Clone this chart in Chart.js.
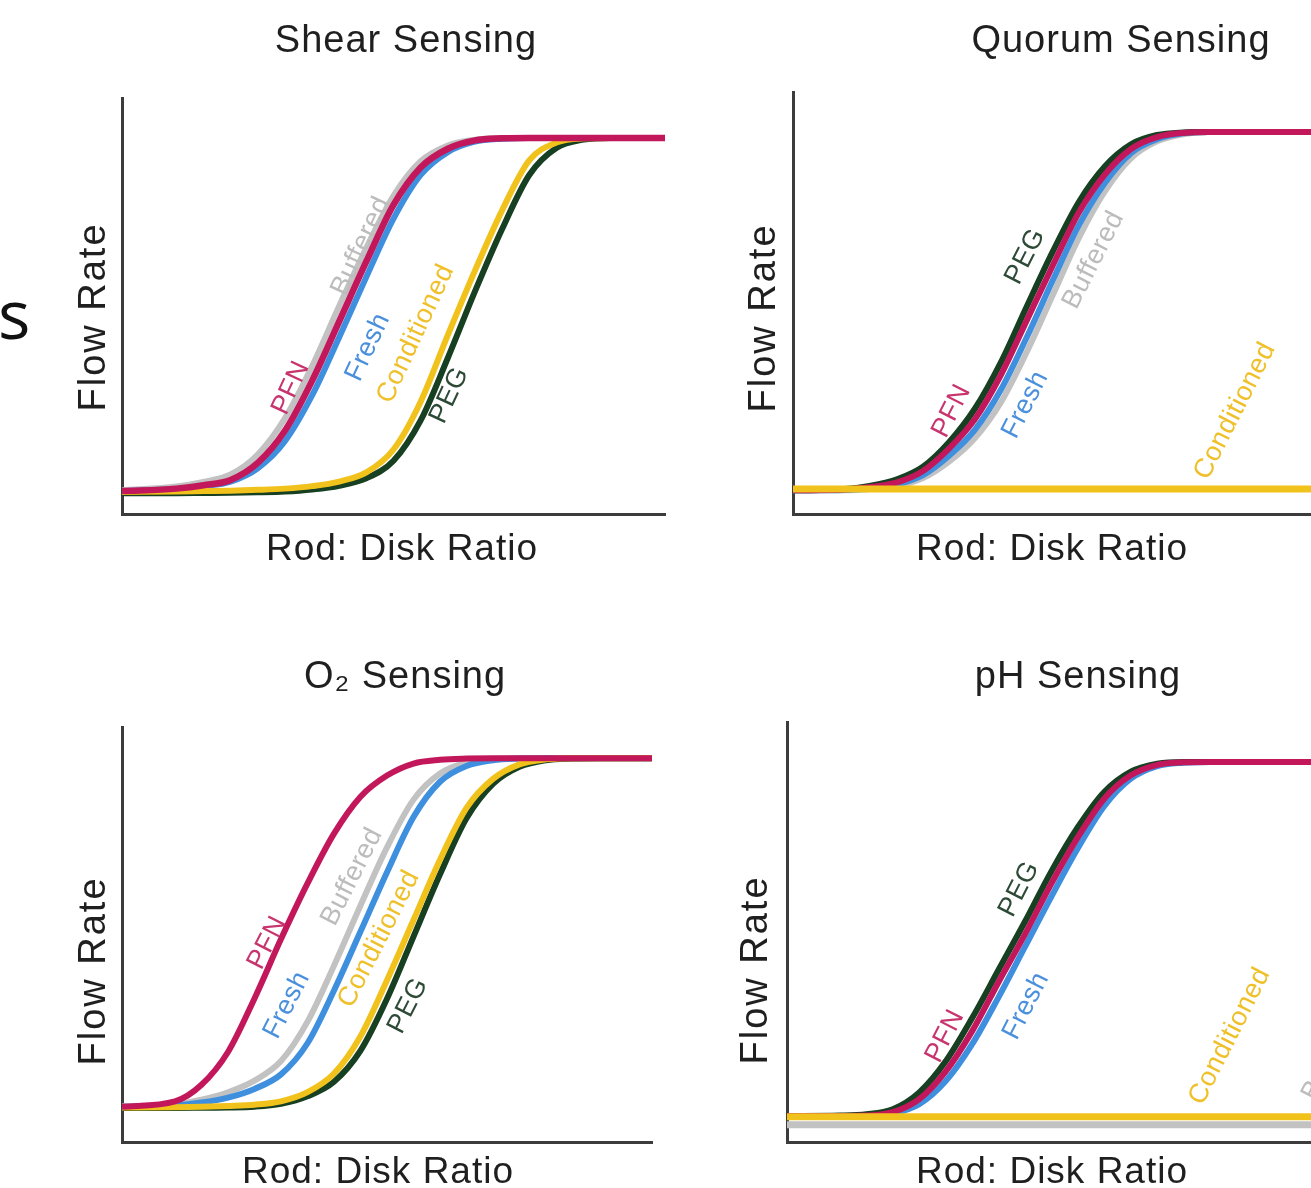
<!DOCTYPE html>
<html>
<head>
<meta charset="utf-8">
<title>Flow rate vs rod:disk ratio</title>
<script src="https://cdn.jsdelivr.net/npm/chart.js@4.4.1/dist/chart.umd.min.js"></script>
<style>
    html, body {
        margin: 0;
        padding: 0;
        width: 1311px;
        height: 1188px;
        overflow: hidden;
        background: #ffffff;
    }
    canvas.panel {
        position: absolute;
    }
    #cutText {
        position: absolute;
        left: -2px;
        top: 279px;
        font-family: "Open Sans", sans-serif;
        font-size: 68px;
        line-height: 68px;
        color: #111;
    }
</style>
</head>
<body>
<div id="cutText">s</div>
<canvas id="shearChart" class="panel"></canvas>
<canvas id="quorumChart" class="panel"></canvas>
<canvas id="oxygenChart" class="panel"></canvas>
<canvas id="phChart" class="panel"></canvas>

<script>
// rod:disk ratio sample points (arbitrary units, 0-100 across each axis)
const ratioSteps = [0, 10, 15, 20, 25, 30, 35, 40, 45, 50, 55, 60, 65, 70, 75, 80, 85, 90, 100];

// Shear sensing - flow rate (arbitrary units)
const shearPFN         = [5.5, 6.1, 6.9, 8.2, 12.3, 20, 32, 46.3, 60.7, 74.3, 83.3, 87.8, 89.8, 90.3, 90.4, 90.4, 90.4, 90.4, 90.4];
const shearBuffered    = [5.7, 6.6, 7.7, 9.5, 14.3, 23, 35.5, 50, 64, 76.5, 84.8, 88.6, 90, 90.4, 90.4, 90.4, 90.4, 90.4, 90.4];
const shearFresh       = [5.5, 6.0, 6.7, 7.8, 11, 17.5, 28.5, 42.5, 57, 71, 81.5, 87, 89.5, 90.2, 90.4, 90.4, 90.4, 90.4, 90.4];
const shearConditioned = [5.3, 5.4, 5.5, 5.6, 5.8, 6.1, 6.7, 7.8, 10, 15.5, 27, 43, 58.5, 73, 85, 89.3, 90.3, 90.4, 90.4];
const shearPEG         = [5.0, 5.0, 5.05, 5.1, 5.2, 5.4, 5.9, 6.8, 8.6, 12.8, 22.5, 37.5, 53.5, 68.5, 81.5, 88, 90, 90.4, 90.4];

// Quorum sensing
const quorumPFN         = [5.6, 5.8, 6.4, 7.5, 10.2, 15.5, 22.5, 33, 46, 59, 71.5, 80.5, 86.5, 89.3, 90.3, 90.5, 90.5, 90.5, 90.5];
const quorumPEG         = [5.6, 5.9, 6.7, 8.2, 11.2, 17, 25, 36, 49.3, 62.3, 74, 82.4, 87.6, 89.8, 90.4, 90.5, 90.5, 90.5, 90.5];
const quorumFresh       = [5.6, 5.7, 6.1, 7, 9.2, 13.8, 20, 29.5, 42, 55.5, 68.5, 78.5, 85.5, 88.8, 90.2, 90.5, 90.5, 90.5, 90.5];
const quorumBuffered    = [5.6, 5.6, 5.9, 6.6, 8.5, 12.4, 18, 26.5, 38.5, 52, 65.5, 76.5, 84.3, 88.3, 90, 90.5, 90.5, 90.5, 90.5];
const quorumConditioned = [5.9, 5.9, 5.9, 5.9, 5.9, 5.9, 5.9, 5.9, 5.9, 5.9, 5.9, 5.9, 5.9, 5.9, 5.9, 5.9, 5.9, 5.9, 5.9];

// O2 sensing
const oxygenPFN         = [8.5, 9.8, 13.8, 21.7, 34.6, 48.9, 62.3, 74.3, 83.2, 88.3, 91.2, 92.1, 92.4, 92.5, 92.5, 92.5, 92.5, 92.5, 92.5];
const oxygenBuffered    = [8.6, 9.1, 10.2, 12, 14.8, 19.5, 29, 42.5, 57, 71, 82.5, 88.8, 91.5, 92.3, 92.5, 92.5, 92.5, 92.5, 92.5];
const oxygenFresh       = [8.5, 8.8, 9.5, 10.7, 12.8, 16.3, 23.8, 36.5, 50.7, 65, 78.3, 86.8, 90.6, 92, 92.4, 92.5, 92.5, 92.5, 92.5];
const oxygenConditioned = [8.3, 8.4, 8.5, 8.7, 9.0, 9.8, 12, 16.5, 25.5, 39, 53.5, 68, 80.5, 87.5, 91, 92.2, 92.5, 92.5, 92.5];
const oxygenPEG         = [8.2, 8.2, 8.25, 8.3, 8.5, 9.2, 11, 14.5, 22, 34.5, 49.5, 64.5, 78, 86.3, 90.4, 92, 92.4, 92.5, 92.5];

// pH sensing
const phPFN         = [6.2, 6.2, 6.3, 7.1, 10.2, 16.8, 26.4, 38.1, 49.5, 61.6, 72.6, 81.8, 87.3, 89.8, 90.4, 90.5, 90.5, 90.5, 90.5];
const phPEG         = [6.2, 6.3, 6.6, 7.8, 11.8, 19.2, 29.5, 41, 52.5, 64.5, 75, 83.4, 88.2, 90.1, 90.5, 90.5, 90.5, 90.5, 90.5];
const phFresh       = [6.2, 6.2, 6.2, 6.8, 9, 14.5, 23.3, 34.5, 46.5, 58.5, 70, 80, 86.5, 89.5, 90.3, 90.5, 90.5, 90.5, 90.5];
const phConditioned = [6.0, 6.0, 6.0, 6.0, 6.0, 6.0, 6.0, 6.0, 6.0, 6.0, 6.0, 6.0, 6.0, 6.0, 6.0, 6.0, 6.0, 6.0, 6.0];
const phBuffered    = [4.1, 4.1, 4.1, 4.1, 4.1, 4.1, 4.1, 4.1, 4.1, 4.1, 4.1, 4.1, 4.1, 4.1, 4.1, 4.1, 4.1, 4.1, 4.1];

// in-plot curve labels: [name, ratio, flow rate]
const shearLabels  = [['PFN', 31.1, 30.3], ['Buffered', 44, 64.4], ['Fresh', 45.3, 40.1], ['Conditioned', 54.1, 43.3], ['PEG', 60.3, 28.5]];
const quorumLabels = [['PFN', 30.5, 24.4], ['PEG', 44.7, 61], ['Fresh', 44.7, 25.9], ['Buffered', 57.8, 60.2], ['Conditioned', 85, 24.4]];
const oxygenLabels = [['PFN', 27.4, 48], ['Fresh', 31.1, 33], ['Buffered', 43.4, 63.9], ['Conditioned', 48.5, 48.9], ['PEG', 54, 32.8]];
const phLabels     = [['PFN', 29.9, 25.2], ['PEG', 43.9, 60.2], ['Fresh', 45.2, 32.4], ['Conditioned', 83.7, 25.2], ['Buffered', 103.2, 21.5]];

const lineColors = {
    PFN: '#c2185b',
    Fresh: '#3f8fdf',
    Buffered: '#c2c2c2',
    Conditioned: '#f1c21b',
    PEG: '#173f22'
};
const labelColors = {
    PFN: '#c8346e',
    Fresh: '#4a90dc',
    Buffered: '#bcbcbc',
    Conditioned: '#efc02a',
    PEG: '#2d4a37'
};

const FONT = '"Liberation Sans", Arial, sans-serif';
const AXIS_COLOR = '#3c3c3c';
const TEXT_COLOR = '#1f1f1f';

// panel layout (page pixels)
const panels = [
    {
        canvas: 'shearChart',
        title: 'Shear Sensing',
        box: { left: 30, top: 0, width: 650, height: 600 },
        area: { left: 122, right: 665, top: 98, bottom: 514 },
        titleAt: [406, 42], xTitleAt: [402, 550], yTitleAt: [95, 317],
        series: { PFN: shearPFN, Conditioned: shearConditioned, PEG: shearPEG, Fresh: shearFresh, Buffered: shearBuffered },
        widths: { PFN: 6.5, Conditioned: 6, PEG: 6, Fresh: 6, Buffered: 6 },
        labels: shearLabels,
        angle: -65
    },
    {
        canvas: 'quorumChart',
        title: 'Quorum Sensing',
        box: { left: 700, top: 0, width: 620, height: 600 },
        area: { left: 793, right: 1313, top: 92, bottom: 514 },
        titleAt: [1121, 42], xTitleAt: [1052, 550], yTitleAt: [765, 318],
        series: { Conditioned: quorumConditioned, PFN: quorumPFN, PEG: quorumPEG, Fresh: quorumFresh, Buffered: quorumBuffered },
        widths: { Conditioned: 7, PFN: 6, PEG: 6, Fresh: 6, Buffered: 6 },
        labels: quorumLabels,
        angle: -63
    },
    {
        canvas: 'oxygenChart',
        title: 'O\u2082 Sensing',
        box: { left: 30, top: 620, width: 650, height: 568 },
        area: { left: 122, right: 652, top: 727, bottom: 1142 },
        titleAt: [405, 678], xTitleAt: [378, 1173], yTitleAt: [95, 971],
        series: { PFN: oxygenPFN, Conditioned: oxygenConditioned, PEG: oxygenPEG, Fresh: oxygenFresh, Buffered: oxygenBuffered },
        widths: { PFN: 6, Conditioned: 6, PEG: 6, Fresh: 6, Buffered: 6 },
        labels: oxygenLabels,
        angle: -63
    },
    {
        canvas: 'phChart',
        title: 'pH Sensing',
        box: { left: 700, top: 620, width: 620, height: 568 },
        area: { left: 787, right: 1316, top: 722, bottom: 1142 },
        titleAt: [1078, 678], xTitleAt: [1052, 1173], yTitleAt: [757, 970],
        series: { Conditioned: phConditioned, PFN: phPFN, PEG: phPEG, Fresh: phFresh, Buffered: phBuffered },
        widths: { Conditioned: 7, PFN: 6, PEG: 6, Fresh: 6, Buffered: 7 },
        labels: phLabels,
        angle: -63
    }
];

// titles and axis titles, placed in page coordinates
const panelText = {
    id: 'panelText',
    afterDraw(chart, args, opts) {
        const ctx = chart.ctx;
        const { box } = opts;
        ctx.save();
        ctx.fillStyle = TEXT_COLOR;
        ctx.textAlign = 'center';
        ctx.textBaseline = 'middle';

        ctx.font = '38px ' + FONT;
        ctx.letterSpacing = '1px';
        ctx.fillText(opts.title, opts.titleAt[0] - box.left, opts.titleAt[1] - box.top);

        ctx.font = '37px ' + FONT;
        ctx.fillText('Rod: Disk Ratio', opts.xTitleAt[0] - box.left, opts.xTitleAt[1] - box.top);

        ctx.translate(opts.yTitleAt[0] - box.left, opts.yTitleAt[1] - box.top);
        ctx.rotate(-Math.PI / 2);
        ctx.font = '38px ' + FONT;
        ctx.letterSpacing = '2px';
        ctx.fillText('Flow Rate', 0, 0);
        ctx.restore();
    }
};

// rotated names written along the curves
const curveLabels = {
    id: 'curveLabels',
    afterDatasetsDraw(chart, args, opts) {
        const ctx = chart.ctx;
        const xScale = chart.scales.x;
        const yScale = chart.scales.y;
        ctx.save();
        ctx.font = '27px ' + FONT;
        ctx.letterSpacing = '0.5px';
        ctx.textAlign = 'center';
        ctx.textBaseline = 'middle';
        opts.items.forEach(([name, rx, fy]) => {
            ctx.save();
            ctx.translate(xScale.getPixelForValue(rx), yScale.getPixelForValue(fy));
            ctx.rotate(opts.angle * Math.PI / 180);
            ctx.fillStyle = labelColors[name];
            ctx.fillText(name, 0, 0);
            ctx.restore();
        });
        ctx.restore();
    }
};

function hiddenAxis() {
    return {
        type: 'linear',
        min: 0,
        max: 100,
        ticks: { display: false },
        grid: { display: false, drawTicks: false },
        border: { display: true, color: AXIS_COLOR, width: 3 }
    };
}

panels.forEach(panel => {
    const canvas = document.getElementById(panel.canvas);
    canvas.width = panel.box.width;
    canvas.height = panel.box.height;
    canvas.style.left = panel.box.left + 'px';
    canvas.style.top = panel.box.top + 'px';

    // first entry is drawn on top
    const datasets = Object.keys(panel.series).map((name, i) => ({
        label: name,
        data: ratioSteps.map((r, j) => ({ x: r, y: panel.series[name][j] })),
        borderColor: lineColors[name],
        borderWidth: panel.widths[name],
        pointRadius: 0,
        fill: false,
        cubicInterpolationMode: 'monotone',
        order: i
    }));

    new Chart(canvas, {
        type: 'line',
        data: { datasets },
        options: {
            responsive: false,
            animation: false,
            devicePixelRatio: 1,
            events: [],
            layout: {
                padding: {
                    left: panel.area.left - panel.box.left,
                    right: panel.box.left + panel.box.width - panel.area.right,
                    top: panel.area.top - panel.box.top,
                    bottom: panel.box.top + panel.box.height - panel.area.bottom
                }
            },
            scales: {
                x: hiddenAxis(),
                y: hiddenAxis()
            },
            plugins: {
                legend: { display: false },
                tooltip: { enabled: false },
                title: { display: false },
                panelText: {
                    box: panel.box,
                    title: panel.title,
                    titleAt: panel.titleAt,
                    xTitleAt: panel.xTitleAt,
                    yTitleAt: panel.yTitleAt
                },
                curveLabels: { items: panel.labels, angle: panel.angle }
            }
        },
        plugins: [curveLabels, panelText]
    });
});
</script>
</body>
</html>
